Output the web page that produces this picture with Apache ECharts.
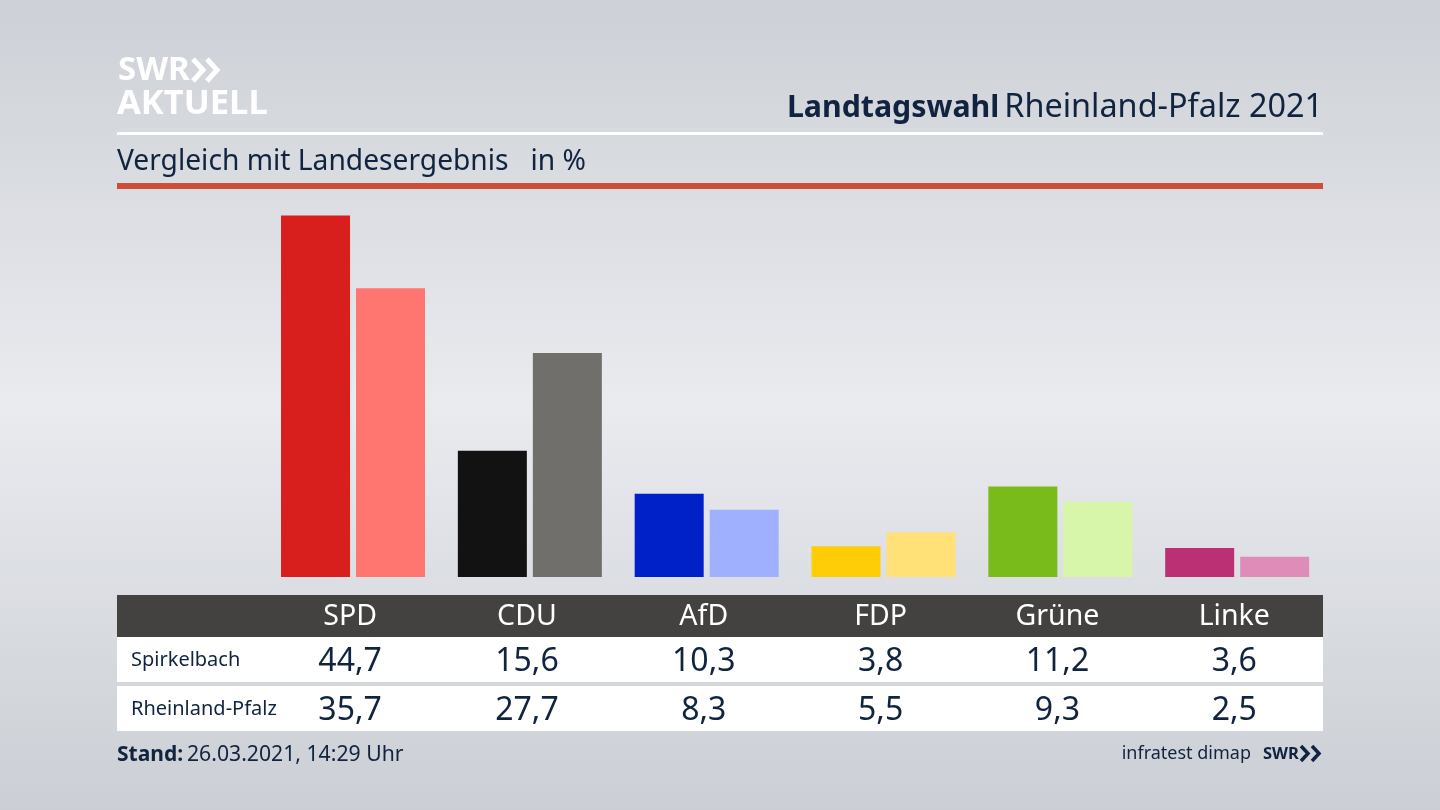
<!DOCTYPE html>
<html lang="de">
<head>
  <meta charset="UTF-8">
  <title>Landtagswahl Rheinland-Pfalz 2021</title>
  <style>
    html, body { margin: 0; padding: 0; width: 1440px; height: 810px; overflow: hidden; }
    #chart { width: 1440px; height: 810px; }
  </style>
  <script src="https://cdn.jsdelivr.net/npm/echarts@6/dist/echarts.min.js"></script>
</head>
<body>
  <div id="chart"></div>
  <script>
    const parties = ['SPD', 'CDU', 'AfD', 'FDP', 'Grüne', 'Linke'];
    const spirkelbach = [44.7, 15.6, 10.3, 3.8, 11.2, 3.6];
    const rheinlandPfalz = [35.7, 27.7, 8.3, 5.5, 9.3, 2.5];
    const rowNames = ['Spirkelbach', 'Rheinland-Pfalz'];
    const darkColors = ['#d81f1e', '#121212', '#0021c8', '#ffcc08', '#78bb1b', '#bb2f75'];
    const lightColors = ['#ff7570', '#706f6c', '#9fb0ff', '#ffe177', '#d7f6a9', '#e08cb8'];

    const FONT = '"Noto Sans", sans-serif';
    const NAVY = '#10233f';

    // Dezimalkomma wie im Original
    const fmt = v => v.toFixed(1).replace('.', ',');

    function rect(x, y, w, h, fill) {
      return { type: 'rect', shape: { x, y, width: w, height: h }, style: { fill }, silent: true };
    }
    function text(x, y, str, size, fill, weight, align) {
      return {
        type: 'text', x, y, silent: true,
        style: {
          text: str, fill, font: (weight || 'normal') + ' ' + size + 'px ' + FONT,
          textAlign: align || 'left', textVerticalAlign: 'middle'
        }
      };
    }
    function chevrons(x, y, h, w, step, color, lw) {
      // Doppelpfeil vom SWR Logo
      return [0, 1].map(i => ({
        type: 'polyline', silent: true,
        shape: { points: [[x + i * step, y], [x + i * step + w, y + h / 2], [x + i * step, y + h]] },
        style: { stroke: color, lineWidth: lw, fill: null }
      }));
    }

    const chart = echarts.init(document.getElementById('chart'));

    const tableAxis = (data, margin, color, size) => ({
      type: 'category', gridIndex: 1, position: 'bottom', data,
      axisLine: { show: false }, axisTick: { show: false }, splitLine: { show: false },
      axisLabel: { interval: 0, margin, color, fontSize: size, fontFamily: FONT, verticalAlign: 'middle' }
    });

    chart.setOption({
      animation: false,
      backgroundColor: {
        type: 'linear', x: 0, y: 0, x2: 0, y2: 1,
        colorStops: [
          { offset: 0, color: '#cdd0d6' },
          { offset: 0.5, color: '#e9ebef' },
          { offset: 1, color: '#cbced4' }
        ]
      },
      title: [
        {
          text: '{b|Landtagswahl} {n|Rheinland-Pfalz 2021}', right: 117, top: 92, padding: 0,
          textStyle: {
            fontWeight: 'normal',
            rich: {
              b: { fontFamily: FONT, fontSize: 30.3, fontWeight: 'bold', color: NAVY },
              n: { fontFamily: FONT, fontSize: 32.4, fontWeight: 'normal', color: NAVY }
            }
          }
        },
        {
          text: 'Vergleich mit Landesergebnis   in %', left: 117, top: 148, padding: 0,
          textStyle: { fontFamily: FONT, fontSize: 28.2, fontWeight: 'normal', color: NAVY }
        }
      ],
      grid: [
        { left: 264.6, width: 1061, top: 213, height: 364 },
        { left: 261.7, width: 1061, top: 594, height: 1 }
      ],
      xAxis: [
        { type: 'category', gridIndex: 0, data: parties, axisLine: { show: false }, axisTick: { show: false }, axisLabel: { show: false } },
        tableAxis(parties, 22, '#ffffff', 28.5),
        tableAxis(spirkelbach.map(fmt), 67, NAVY, 32),
        tableAxis(rheinlandPfalz.map(fmt), 116, NAVY, 32)
      ],
      yAxis: [
        { type: 'value', gridIndex: 0, min: 0, max: 45, show: false },
        { type: 'value', gridIndex: 1, show: false }
      ],
      series: [
        {
          name: rowNames[0], type: 'bar', barWidth: 69, barGap: '8.7%',
          data: spirkelbach.map((v, i) => ({ value: v, itemStyle: { color: darkColors[i] } }))
        },
        {
          name: rowNames[1], type: 'bar', barWidth: 69, barGap: '8.7%',
          data: rheinlandPfalz.map((v, i) => ({ value: v, itemStyle: { color: lightColors[i] } }))
        }
      ],
      graphic: [
        // Linien
        rect(117, 132, 1206, 3, '#ffffff'),
        rect(117, 183, 1206, 6, '#cd4f38'),
        // Tabelle
        rect(117, 595, 1206, 42, '#434240'),
        rect(117, 637, 1206, 45, '#ffffff'),
        rect(117, 686, 1206, 45, '#ffffff'),
        text(131, 660, rowNames[0], 20, NAVY),
        text(131, 709, rowNames[1], 20, NAVY),
        // Logo oben
        text(118, 71, 'SWR', 33, '#ffffff', 'bold'),
        text(117, 104, 'AKTUELL', 34.5, '#ffffff', 'bold'),
        ...chevrons(193, 59, 22, 10, 14, '#ffffff', 5),
        // Fusszeile
        text(117, 755, 'Stand:', 21, NAVY, 'bold'),
        text(187, 755, '26.03.2021, 14:29 Uhr', 21.2, NAVY),
        text(1251, 754, 'infratest dimap', 18, NAVY, 'normal', 'right'),
        text(1263, 754, 'SWR', 16.5, NAVY, 'bold'),
        ...chevrons(1301, 746, 15, 7, 11, NAVY, 3.5)
      ]
    });
  </script>
</body>
</html>
